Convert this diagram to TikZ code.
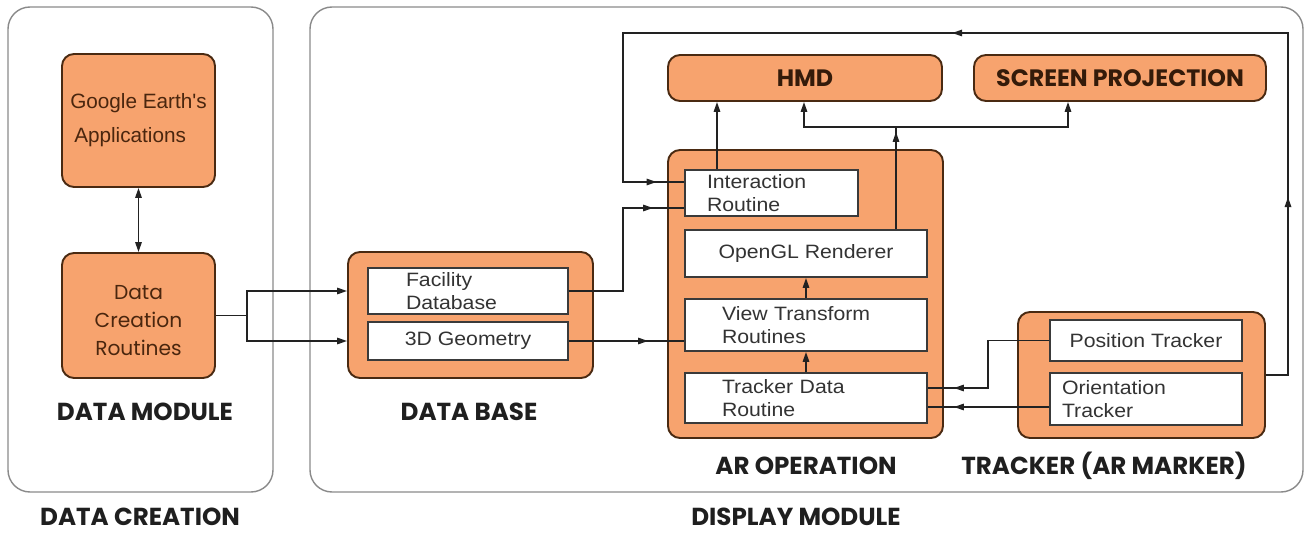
\documentclass[tikz,border=0pt]{standalone}
\usepackage{fontspec}
\usetikzlibrary{arrows.meta,decorations.markings}
\newfontfamily\gothic{Poppins}
\newfontfamily\arialf{Liberation Sans}[FakeStretch=1.1]
\newfontfamily\arialn{Liberation Sans}
\newlength\pxu
\setlength\pxu{0.02cm}
\definecolor{orng}{HTML}{F7A36E}
\definecolor{obrd}{HTML}{4A2A12}
\definecolor{wbrd}{HTML}{3A3A3A}
\definecolor{brn}{HTML}{4A260E}
\definecolor{itxt}{HTML}{333333}
\definecolor{lin}{HTML}{222222}
\definecolor{outl}{HTML}{8A8A8A}
\tikzset{
  outerbox/.style={draw=outl, line width=0.8pt, rounded corners=0.44cm, inner sep=0pt},
  obox/.style={draw=obrd, fill=orng, line width=1.1pt, rounded corners=0.24cm, inner sep=0pt},
  wbox/.style={draw=wbrd, fill=white, line width=1.1pt, inner sep=0pt, text=itxt,
    font=\arialf\fontsize{11}{13}\selectfont},
  conn/.style={draw=lin, line width=0.9pt},
  tipa/.style={-{Triangle[length=0.2cm,width=0.13cm]}},
  arr/.style={conn, tipa},
  lbl/.style={font=\gothic\bfseries\fontsize{14}{16}\selectfont, text=black!88, inner sep=1pt},
  gtxt/.style={font=\gothic\fontsize{11.5}{16}\selectfont, text=brn},
  midarr/.style={decoration={markings, mark=at position #1 with {\arrow{Triangle[length=0.2cm,width=0.13cm]}}}, postaction={decorate}},
}
\begin{document}
\begin{tikzpicture}[x=0.02cm, y=-0.02cm]
\useasboundingbox (0,0) rectangle (1306,533);
% outer frames
\node[outerbox, minimum width=265\pxu, minimum height=485\pxu] (dcframe) at (140.5,249.5) {};
\node[outerbox, minimum width=993\pxu, minimum height=485\pxu] (dmframe) at (806.5,249.5) {};
\node[lbl] (dclbl) at (140,517) {DATA CREATION};
\node[lbl] (dmlbl) at (796,517) {DISPLAY MODULE};
% data module
\node[obox, minimum width=153\pxu, minimum height=133\pxu, align=left,
  font=\arialn\fontsize{11.8}{19.5}\selectfont, text=brn] (ge) at (138.5,120.5) {Google Earth's\\\hspace*{4\pxu}Applications};
\node[obox, minimum width=153\pxu, minimum height=125\pxu,
  label={[gtxt, align=center, yshift=-5\pxu]center:Data\\Creation\\Routines}] (dcr) at (138.5,315.5) {};
\node[lbl] (dmod) at (145,412) {DATA MODULE};
% data base
\node[obox, minimum width=245\pxu, minimum height=126\pxu] (db) at (470.5,315) {};
\node[wbox, minimum width=200\pxu, minimum height=46\pxu, align=left, text width=124\pxu] (fac) at (468,291) {Facility\\Database};
\node[wbox, minimum width=200\pxu, minimum height=38\pxu] (geo) at (468,341) {3D Geometry};
\node[lbl] (dblbl) at (469,412) {DATA BASE};
% AR operation
\node[obox, minimum width=275\pxu, minimum height=288\pxu] (ar) at (805.5,294) {};
\node[wbox, minimum width=173\pxu, minimum height=46\pxu, align=left, text width=129\pxu] (ir) at (771.5,193) {Interaction\\Routine};
\node[wbox, minimum width=242\pxu, minimum height=47\pxu] (gl) at (806,253.5) {OpenGL Renderer};
\node[wbox, minimum width=242\pxu, minimum height=52\pxu, align=left, text width=168\pxu] (vt) at (806,325) {View Transform\\Routines};
\node[wbox, minimum width=242\pxu, minimum height=50\pxu, align=left, text width=168\pxu] (td) at (806,398) {Tracker Data\\Routine};
\node[lbl] (arlbl) at (806,466) {AR OPERATION};
% displays
\node[obox, minimum width=274\pxu, minimum height=46\pxu, font=\gothic\bfseries\fontsize{13.5}{15}\selectfont, text=brn!70!black] (hmd) at (805,78) {HMD};
\node[obox, minimum width=292\pxu, minimum height=46\pxu, font=\gothic\bfseries\fontsize{13.5}{15}\selectfont, text=brn!70!black] (sp) at (1120,78) {SCREEN PROJECTION};
% tracker
\node[obox, minimum width=247\pxu, minimum height=126\pxu] (tr) at (1141.5,375) {};
\node[wbox, minimum width=192\pxu, minimum height=41\pxu] (pt) at (1146,340.5) {Position Tracker};
\node[wbox, minimum width=192\pxu, minimum height=52\pxu, align=left, text width=168\pxu] (ot) at (1146,399) {Orientation\\Tracker};
\node[lbl] (trlbl) at (1104,466) {TRACKER (AR MARKER)};
% connectors
\draw[conn, {Triangle[length=0.2cm,width=0.13cm]}-{Triangle[length=0.2cm,width=0.13cm]}] (ge.south) -- (dcr.north);
\coordinate (split) at (247,315.5);
\draw[conn] (dcr.east) -- (split);
\draw[arr] (split) |- (db.west |- fac.east);
\draw[arr] (split) |- (db.west |- geo.east);
\draw[conn, midarr=-0.62cm] (fac.east) -- (623,291) |- (ir.west |- 0,208);
\draw[conn, midarr=-0.72cm] (geo.east) -- (vt.west |- geo.east);
\draw[conn, decoration={markings,
    mark=at position 4cm with {\arrow{Triangle[length=0.2cm,width=0.13cm]}},
    mark=at position 14cm with {\arrow{Triangle[length=0.2cm,width=0.13cm]}},
    mark=at position -0.55cm with {\arrow{Triangle[length=0.2cm,width=0.13cm]}}},
    postaction={decorate}]
  (tr.east) -- (1288,375) -- (1288,33) -- (623,33) -- (623,182) -- (ir.west |- 0,182);
\draw[arr] (ir.north -| 717,0) -- (hmd.south -| 717,0);
\coordinate (jn) at (896,127);
\draw[conn, midarr=-0.1cm] (gl.north -| jn) -- (jn);
\draw[arr] (jn) -| (hmd.south -| 804,0);
\draw[arr] (jn) -| (sp.south -| 1068,0);
\draw[arr] (vt.north) -- (gl.south);
\draw[arr] (td.north) -- (vt.south);
\draw[conn, midarr=-0.52cm] (pt.west) -- (988,340.5) |- (td.east |- 0,388);
\draw[conn, midarr=-0.52cm] (ot.west |- 0,407) -- (td.east |- 0,407);
\end{tikzpicture}
\end{document}
